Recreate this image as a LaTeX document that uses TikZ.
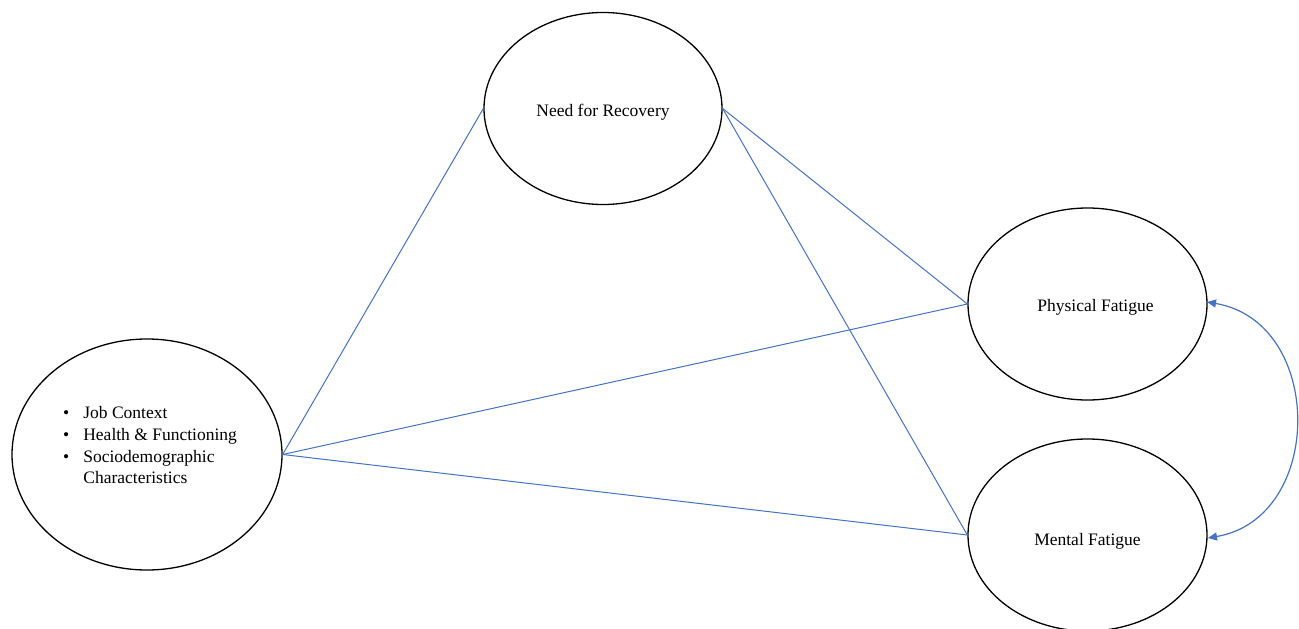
\documentclass[tikz,border=0pt]{standalone}
\usepackage{fontspec}
\setmainfont{Liberation Serif}
\usetikzlibrary{shapes.geometric,arrows.meta}
\definecolor{linkblue}{HTML}{4472C4}
\tikzset{
  oval/.style={ellipse,draw=black,line width=1.3pt,inner sep=0pt},
  lbl/.style={inner sep=0pt,font=\fontsize{17.5}{21.7}\selectfont},
  link/.style={draw=linkblue,line width=1pt},
  corr/.style={draw=linkblue,line width=1.2pt,{Triangle[length=9pt,width=8pt]}-{Triangle[length=9pt,width=8pt]}}
}
\begin{document}
\begin{tikzpicture}[x=1pt,y=-1pt]
\useasboundingbox (0,0) rectangle (1299,629);
% ellipses
\node[oval,minimum width=238pt,minimum height=192pt] (nfr) at (603,108.5) {};
\node[oval,minimum width=270pt,minimum height=231pt] (ant) at (147,454.5) {};
\node[oval,minimum width=239pt,minimum height=192pt] (phys) at (1087.5,304) {};
\node[oval,minimum width=239pt,minimum height=192pt] (ment) at (1087.5,535) {};
% labels
\node[lbl] (nfrt) at (603,112) {Need for Recovery};
\node[lbl] (physt) at (1095.5,307) {Physical Fatigue};
\node[lbl] (mentt) at (1087.5,541) {Mental Fatigue};
\node[lbl,anchor=west] (antt) at (63,447) {%
  \begin{tabular}{@{}l@{\hspace{14pt}}l@{}}
  \textbullet & Job Context\\
  \textbullet & Health \& Functioning\\
  \textbullet & Sociodemographic\\
              & Characteristics
  \end{tabular}};
% connectors
\draw[link] (ant.east) -- (nfr.west);
\draw[link] (ant.east) -- (phys.west);
\draw[link] (ant.east) -- (ment.west);
\draw[link] (nfr.east) -- (phys.west);
\draw[link] (nfr.east) -- (ment.west);
\coordinate (pe) at (1207,302);
\coordinate (me) at (1208,538);
\draw[corr] (pe) .. controls (1325,322) and (1325,518) .. (me);
\end{tikzpicture}
\end{document}
